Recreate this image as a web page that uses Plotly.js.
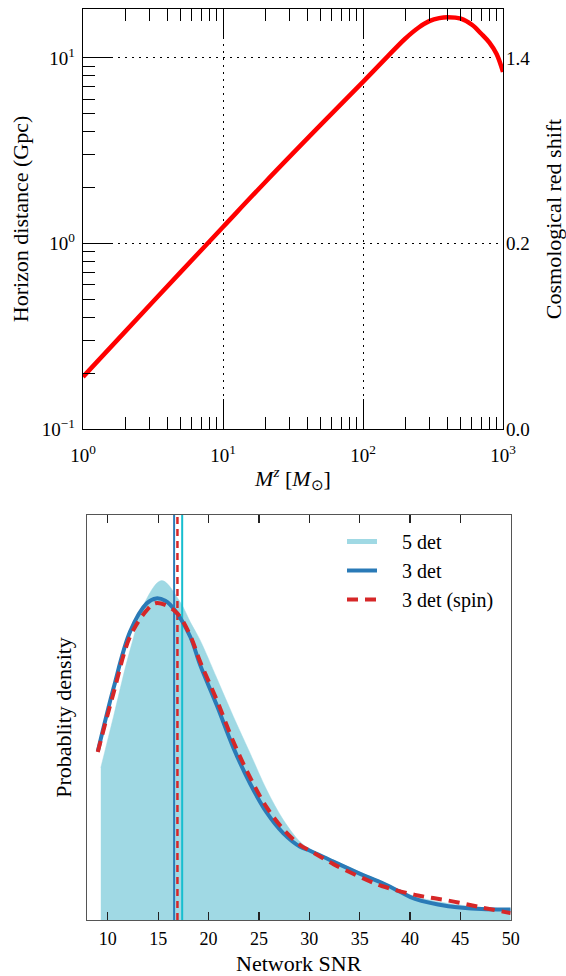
<!DOCTYPE html>
<html><head><meta charset="utf-8">
<script src="https://cdn.plot.ly/plotly-3.0.1.min.js"></script>
<style>html,body{margin:0;padding:0;background:#fff}#chart{width:566px;height:976px}</style>
</head><body><div id="chart"></div>
<script>
// ---- Top panel: horizon distance vs redshifted mass ----
const massMz = [1, 2, 5, 10, 20, 50, 100, 150, 200, 250, 300, 350, 400, 500, 600, 700, 800, 900, 1000];
const horizonGpc = [0.191, 0.335, 0.703, 1.227, 2.14, 4.37, 7.43, 10.2, 12.7, 14.6, 15.85, 16.4, 16.6, 16.3, 15.1, 13.5, 12.1, 10.5, 8.41];
const distTickVals = [0.1, 1, 10];
const distTickText = ['10<sup>−1</sup>', '10<sup>0</sup>', '10<sup>1</sup>'];
const massTickVals = [1, 10, 100, 1000];
const massTickText = ['10<sup>0</sup>', '10<sup>1</sup>', '10<sup>2</sup>', '10<sup>3</sup>'];
const redshiftTickVals = [0.1, 1, 10];
const redshiftTickText = ['0.0', '0.2', '1.4'];

// ---- Bottom panel: network SNR distributions ----
const snr5det = [9.3, 10.56, 12.21, 13.87, 15.36, 17.18, 18.2, 19.16, 20.82, 22.47, 24.12, 25.78, 27.43, 29.09, 30.08, 32.4, 35.7, 37.2, 39.0, 40.5, 43.8, 47.1, 50];
const dens5det = [0.0376, 0.0502, 0.0667, 0.0794, 0.0838, 0.0785, 0.0735, 0.0691, 0.0597, 0.0502, 0.0412, 0.0321, 0.0247, 0.0193, 0.0175, 0.0148, 0.0111, 0.0095, 0.0074, 0.0058, 0.0041, 0.0031, 0.0027];
const snr3det = [9.0, 10.56, 12.21, 13.87, 14.8, 15.7, 16.65, 18.17, 19.16, 20.82, 22.47, 24.12, 25.78, 27.43, 29.09, 30.08, 32.4, 35.7, 37.2, 39.0, 40.5, 43.8, 47.1, 50];
const dens3det = [0.0416, 0.0572, 0.0712, 0.0782, 0.0794, 0.0788, 0.0765, 0.0700, 0.0630, 0.0530, 0.0425, 0.0337, 0.0265, 0.0214, 0.0181, 0.0171, 0.0144, 0.0107, 0.0092, 0.0070, 0.0052, 0.0034, 0.0027, 0.0026];
const snr3spin = [9.0, 10.56, 12.21, 13.87, 14.7, 15.7, 16.9, 18.17, 19.16, 20.82, 22.47, 24.12, 25.78, 27.43, 29.09, 30.08, 32.4, 35.7, 37.2, 40.5, 43.8, 47.1, 50];
const dens3spin = [0.0415, 0.0560, 0.0700, 0.0765, 0.0782, 0.0778, 0.0757, 0.0703, 0.0638, 0.0543, 0.0440, 0.0352, 0.0278, 0.0224, 0.0185, 0.0171, 0.0138, 0.0099, 0.0084, 0.0062, 0.0048, 0.0031, 0.0017];
const medianLabels = ['3 det', '3 det (spin)', '5 det'];
const medianSNR = [16.58, 16.91, 17.38];
const densTop = 0.1;

const serif = 'Liberation Serif';
const cFill = '#a0d9e4', cBlue = '#2a7ab7', cRed = '#d62728', cCyan = '#17becf';
const pad = '\u00a0\u00a0\u00a0\u00a0';

// minor tick positions for the log axes (2..9 of each decade)
function decadeMinors(lo, hi) {
  const out = [];
  for (let d = lo; d < hi; d *= 10) for (let k = 2; k <= 9; k++) out.push(d * k);
  return out;
}

const traces = [
  {x: massMz, y: horizonGpc, xaxis: 'x', yaxis: 'y', mode: 'lines',
   line: {color: '#ff0000', width: 4.5, shape: 'spline'}, showlegend: false, hoverinfo: 'skip'},
  // same curve on the redshift axis (invisible) so that axis gets drawn
  {x: massMz, y: horizonGpc, xaxis: 'x4', yaxis: 'y3', mode: 'lines', opacity: 0,
   line: {color: '#ff0000', width: 0.1}, showlegend: false, hoverinfo: 'skip'},
  {x: snr5det, y: dens5det, xaxis: 'x2', yaxis: 'y2', mode: 'lines', fill: 'tozeroy',
   fillcolor: cFill, line: {color: cFill, width: 0.5, shape: 'spline'}, showlegend: false},
  {x: [null], y: [null], xaxis: 'x2', yaxis: 'y2', mode: 'lines', name: pad + '5 det',
   line: {color: cFill, width: 5}},
];
const medColors = [cBlue, cRed, cCyan];
const medDash = ['solid', '7px,5px', 'solid'];
medianSNR.forEach((m, i) => traces.push({
  x: [m, m], y: [0, densTop], xaxis: 'x2', yaxis: 'y2', mode: 'lines', showlegend: false,
  line: {color: medColors[i], width: i === 1 ? 2.5 : 2, dash: medDash[i]}
}));
traces.push(
  {x: snr3det, y: dens3det, xaxis: 'x2', yaxis: 'y2', mode: 'lines', name: pad + '3 det',
   line: {color: cBlue, width: 4, shape: 'spline'}},
  {x: snr3spin, y: dens3spin, xaxis: 'x2', yaxis: 'y2', mode: 'lines', name: pad + '3 det (spin)',
   line: {color: cRed, width: 4, shape: 'spline', dash: '11px,7px'}}
);

const W = 566, H = 976;
const topX = [83 / W, 503 / W], topY = [1 - 429 / H, 1 - 9 / H];
const botX = [86.7 / W, 510.7 / W], botY = [1 - 920 / H, 1 - 515 / H];

const tickFontTop = {family: serif, size: 19, color: '#000'};
const tickFont = {family: serif, size: 18, color: '#000'};
const titleFont = {family: serif, size: 22, color: '#000'};

const layout = {
  width: W, height: H, margin: {l: 0, r: 0, t: 0, b: 0},
  paper_bgcolor: '#fff', plot_bgcolor: '#fff',
  font: {family: serif, color: '#000'},
  showlegend: true,
  legend: {x: 342 / W, y: 1 - 522 / H, xanchor: 'left', yanchor: 'top', bgcolor: 'rgba(0,0,0,0)',
           font: {family: serif, size: 20, color: '#000'}, itemwidth: 30, tracegroupgap: 0},
  xaxis: {domain: topX, anchor: 'y', type: 'log', range: [0, 3], automargin: false,
    tickmode: 'array', tickvals: massTickVals, ticktext: massTickText, tickfont: tickFontTop,
    ticks: 'inside', ticklen: 30, tickwidth: 1, tickcolor: '#000', ticklabelstandoff: 9,
    minor: {tickmode: 'array', tickvals: decadeMinors(1, 1000), ticks: 'inside', ticklen: 12, tickwidth: 1, tickcolor: '#000', showgrid: false},
    showline: true, linecolor: '#000', linewidth: 1.2, mirror: 'allticks',
    showgrid: true, gridcolor: '#000', gridwidth: 1, griddash: '2px,5px', zeroline: false,
    title: {text: '<i>M</i><sup><i>z</i></sup> [<i>M</i><sub>⊙</sub>]', font: titleFont, standoff: 5}},
  xaxis4: {overlaying: 'x', anchor: 'y3', type: 'log', range: [0, 3], visible: false},
  yaxis: {domain: topY, anchor: 'x', type: 'log', range: [-1, 1.264], automargin: false,
    tickmode: 'array', tickvals: distTickVals, ticktext: distTickText, tickfont: tickFontTop,
    ticks: 'inside', ticklen: 30, tickwidth: 1, tickcolor: '#000', ticklabelstandoff: 3,
    minor: {tickmode: 'array', tickvals: decadeMinors(0.1, 10), ticks: 'inside', ticklen: 12, tickwidth: 1, tickcolor: '#000', showgrid: false},
    showline: true, linecolor: '#000', linewidth: 1.2, mirror: true,
    showgrid: true, gridcolor: '#000', gridwidth: 1, griddash: '2px,5px', zeroline: false,
    title: {text: 'Horizon distance (Gpc)', font: titleFont, standoff: 7}},
  yaxis3: {overlaying: 'y', anchor: 'x4', side: 'right', type: 'log', range: [-1, 1.264], automargin: false,
    tickmode: 'array', tickvals: redshiftTickVals, ticktext: redshiftTickText, tickfont: tickFontTop,
    ticks: '', showgrid: false, showline: false, zeroline: false, ticklabelstandoff: 2,
    title: {text: 'Cosmological red shift', font: titleFont, standoff: 26}},
  xaxis2: {domain: botX, anchor: 'y2', range: [7.9, 50], automargin: false,
    tickmode: 'array', tickvals: [10, 15, 20, 25, 30, 35, 40, 45, 50], tickfont: tickFont,
    ticks: 'inside', ticklen: 8, tickwidth: 1.2, tickcolor: '#222', ticklabelstandoff: 2,
    showline: true, linecolor: '#555', linewidth: 1.2, mirror: 'allticks',
    showgrid: false, zeroline: false,
    title: {text: 'Network SNR', font: titleFont, standoff: 9}},
  yaxis2: {domain: botY, anchor: 'x2', range: [0, densTop], automargin: false,
    showticklabels: false, ticks: '', showline: true, linecolor: '#555', linewidth: 1.2, mirror: true,
    showgrid: false, zeroline: false,
    title: {text: 'Probablity density', font: titleFont, standoff: 7}},
};

Plotly.newPlot('chart', traces, layout, {staticPlot: true, displayModeBar: false});
</script></body></html>
